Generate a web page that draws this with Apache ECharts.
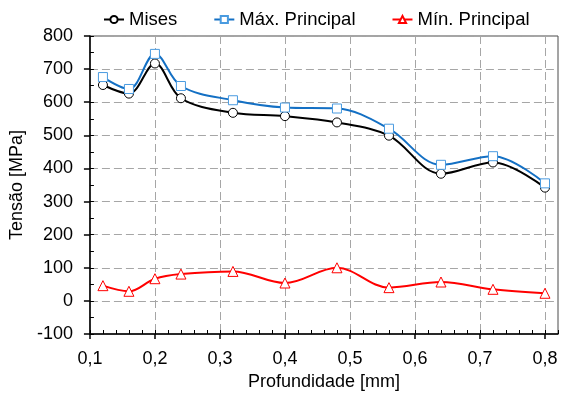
<!DOCTYPE html>
<html>
<head>
<meta charset="utf-8">
<script src="https://cdn.jsdelivr.net/npm/echarts@6/dist/echarts.min.js"></script>
<style>
  html, body { margin: 0; padding: 0; background: #fff; }
  #chart { width: 561px; height: 400px; }
</style>
</head>
<body>
<div id="chart"></div>
<script>
// Stress profile versus depth
const depth = [0.12, 0.16, 0.2, 0.24, 0.32, 0.4, 0.48, 0.56, 0.64, 0.72, 0.8];
const mises = [652, 626, 717, 612, 568, 558, 539, 499, 384, 418, 342];
const maxPrincipal = [676, 640, 746, 649, 606, 584, 581, 520, 411, 437, 355];
const minPrincipal = [46, 29, 67, 81, 89, 54, 100, 40, 57, 35, 23];

const xTicks = [0.1, 0.2, 0.3, 0.4, 0.5, 0.6, 0.7, 0.8];
const yTicks = [-100, 0, 100, 200, 300, 400, 500, 600, 700, 800];

const FONT = 'Liberation Sans, Arial, sans-serif';
const X_MIN = 0.1, X_MAX = 0.82, Y_MIN = -100, Y_MAX = 800;

function pairs(ys) {
  return depth.map((x, i) => [x, ys[i]]);
}

function fmtX(v) {
  const r = Math.round(v * 10);
  if (Math.abs(v * 10 - r) > 1e-6 || v > 0.8001) return '';
  return (r / 10).toFixed(1).replace('.', ',');
}

const chart = echarts.init(document.getElementById('chart'), null, { renderer: 'canvas' });

const textBase = { color: '#000', fontFamily: FONT };

chart.setOption({
  animation: false,
  backgroundColor: '#fff',
  textStyle: { fontFamily: FONT },
  legend: {
    top: 5,
    left: 98,
    itemGap: 36,
    itemWidth: 20,
    itemHeight: 9,
    textStyle: Object.assign({ fontSize: 18.5 }, textBase),
    data: ['Mises', 'Máx. Principal', 'Mín. Principal']
  },
  grid: {
    left: 85, right: 3, top: 36, bottom: 66,
    show: true, borderColor: '#4a4a4a', borderWidth: 1, backgroundColor: 'transparent'
  },
  xAxis: [
    {
      type: 'value', position: 'bottom', min: X_MIN, max: X_MAX, interval: 0.1,
      name: 'Profundidade [mm]', nameLocation: 'middle', nameGap: 38,
      nameTextStyle: Object.assign({ fontSize: 18 }, textBase),
      axisLine: { show: true, onZero: false, lineStyle: { color: '#000', width: 1.5 } },
      axisTick: { show: true, inside: false, length: 5, customValues: xTicks, lineStyle: { color: '#000', width: 1.5 } },
      axisLabel: Object.assign({ fontSize: 18, margin: 16, customValues: xTicks, formatter: fmtX }, textBase),
      splitLine: { show: true, lineStyle: { color: '#a6a6a6', type: [8, 4], width: 1 } }
    },
    {
      type: 'value', position: 'bottom', min: X_MIN, max: X_MAX, interval: 0.02,
      axisLine: { show: false, onZero: false },
      axisTick: { show: true, inside: true, length: 4, lineStyle: { color: '#000', width: 1 } },
      axisLabel: { show: false },
      splitLine: { show: false }
    }
  ],
  yAxis: [
    {
      type: 'value', position: 'left', min: Y_MIN, max: Y_MAX, interval: 100,
      name: 'Tensão [MPa]', nameLocation: 'middle', nameGap: 48, nameRotate: 90,
      nameTextStyle: Object.assign({ fontSize: 18 }, textBase),
      axisLine: { show: true, onZero: false, lineStyle: { color: '#000', width: 1.5 } },
      axisTick: { show: true, inside: false, length: 6, lineStyle: { color: '#000', width: 1.5 } },
      axisLabel: Object.assign({ fontSize: 18, margin: 17, customValues: yTicks }, textBase),
      splitLine: { show: true, lineStyle: { color: '#a6a6a6', type: [8, 4], width: 1 } }
    },
    {
      type: 'value', position: 'left', min: Y_MIN, max: Y_MAX, interval: 50,
      axisLine: { show: false, onZero: false },
      axisTick: { show: true, inside: true, length: 4, lineStyle: { color: '#000', width: 1 } },
      axisLabel: { show: false },
      splitLine: { show: false }
    }
  ],
  series: [
    {
      name: 'Mises', type: 'line', xAxisIndex: 0, yAxisIndex: 0,
      data: pairs(mises), smooth: 0.35,
      symbol: 'circle', symbolSize: 9,
      lineStyle: { color: '#000', width: 2 },
      itemStyle: { color: '#fff', borderColor: '#000', borderWidth: 1 }
    },
    {
      name: 'Máx. Principal', type: 'line', xAxisIndex: 0, yAxisIndex: 0,
      data: pairs(maxPrincipal), smooth: 0.35,
      symbol: 'rect', symbolSize: 9,
      lineStyle: { color: '#1470c4', width: 2 },
      itemStyle: { color: '#fff', borderColor: '#4a9be0', borderWidth: 1 }
    },
    {
      name: 'Mín. Principal', type: 'line', xAxisIndex: 0, yAxisIndex: 0,
      data: pairs(minPrincipal), smooth: 0.35,
      symbol: 'triangle', symbolSize: 10,
      lineStyle: { color: '#ff0000', width: 2 },
      itemStyle: { color: '#fff', borderColor: '#ff0000', borderWidth: 1 }
    }
  ]
});
</script>
</body>
</html>
